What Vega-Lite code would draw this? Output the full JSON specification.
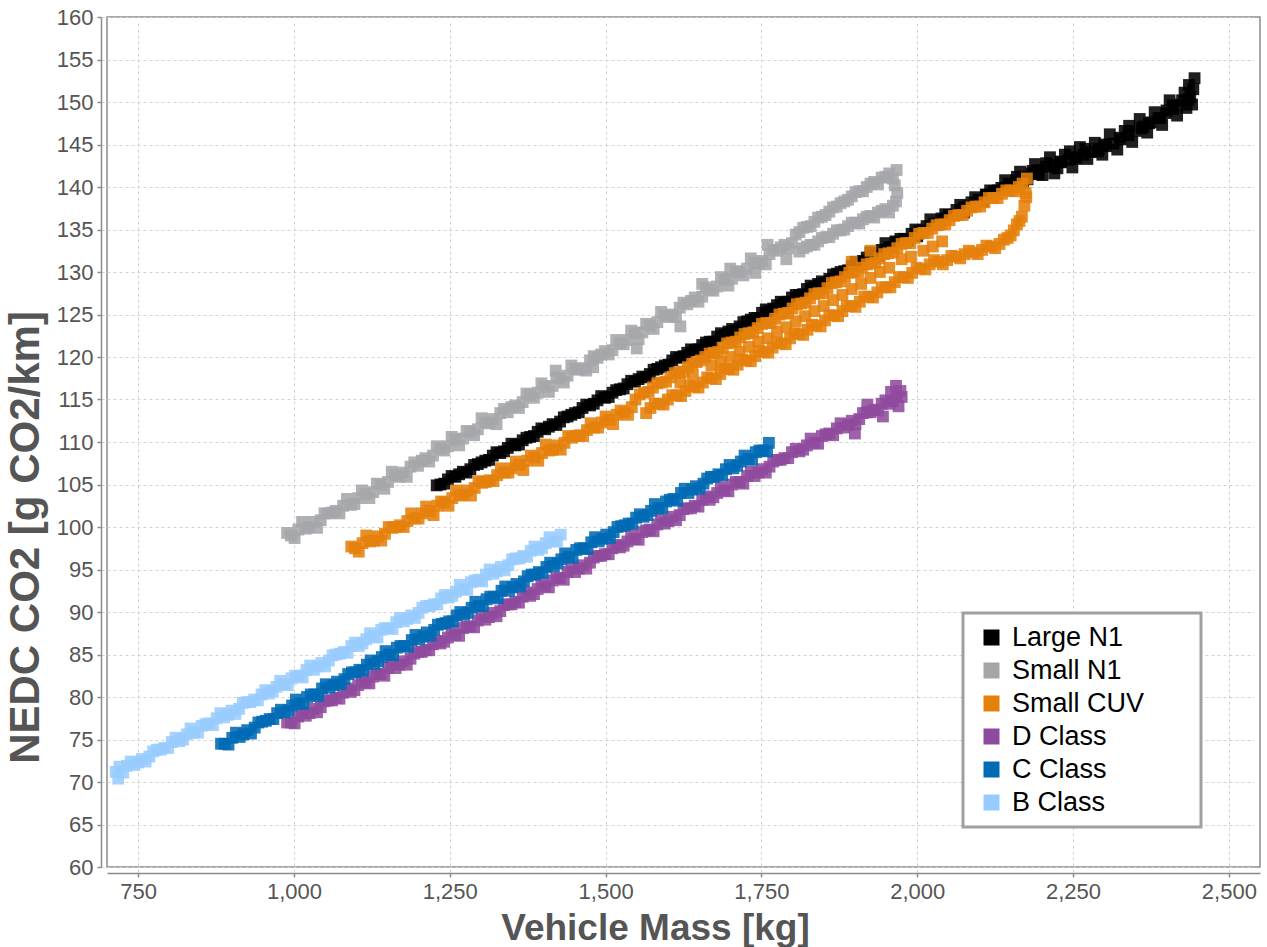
{
  "$schema": "https://vega.github.io/schema/vega-lite/v6.json",
  "width": 1153,
  "height": 850,
  "autosize": {"type": "none"},
  "padding": {"left": 107, "top": 17, "right": 7, "bottom": 80},
  "background": "white",
  "config": {
    "font": "Liberation Sans",
    "view": {"stroke": "#8c8c8c", "strokeWidth": 1.5},
    "axis": {
      "grid": true,
      "gridColor": "#d2d2d2",
      "gridDash": [3, 3],
      "gridWidth": 1,
      "domainColor": "#8c8c8c",
      "domainWidth": 1.5,
      "tickColor": "#8c8c8c",
      "tickSize": 4,
      "tickWidth": 1.5,
      "labelFont": "Liberation Sans",
      "labelFontSize": 22,
      "labelColor": "#555555",
      "labelPadding": 4,
      "titleFont": "Liberation Sans",
      "titleFontWeight": "bold",
      "titleColor": "#555555",
      "offset": 6
    }
  },
  "data": {
    "values": [
      {"series": "Large N1", "mass": 1229, "co2": 104.9},
      {"series": "Large N1", "mass": 1241, "co2": 105.1},
      {"series": "Large N1", "mass": 1253, "co2": 106.0},
      {"series": "Large N1", "mass": 1265, "co2": 106.2},
      {"series": "Large N1", "mass": 1277, "co2": 106.4},
      {"series": "Large N1", "mass": 1289, "co2": 107.3},
      {"series": "Large N1", "mass": 1301, "co2": 107.6},
      {"series": "Large N1", "mass": 1313, "co2": 107.9},
      {"series": "Large N1", "mass": 1325, "co2": 108.8},
      {"series": "Large N1", "mass": 1337, "co2": 108.9},
      {"series": "Large N1", "mass": 1349, "co2": 109.8},
      {"series": "Large N1", "mass": 1361, "co2": 109.7},
      {"series": "Large N1", "mass": 1373, "co2": 110.5},
      {"series": "Large N1", "mass": 1385, "co2": 110.7},
      {"series": "Large N1", "mass": 1397, "co2": 111.6},
      {"series": "Large N1", "mass": 1409, "co2": 111.8},
      {"series": "Large N1", "mass": 1421, "co2": 112.0},
      {"series": "Large N1", "mass": 1433, "co2": 112.9},
      {"series": "Large N1", "mass": 1445, "co2": 113.2},
      {"series": "Large N1", "mass": 1457, "co2": 113.5},
      {"series": "Large N1", "mass": 1469, "co2": 114.4},
      {"series": "Large N1", "mass": 1481, "co2": 114.5},
      {"series": "Large N1", "mass": 1493, "co2": 115.4},
      {"series": "Large N1", "mass": 1505, "co2": 115.3},
      {"series": "Large N1", "mass": 1517, "co2": 116.1},
      {"series": "Large N1", "mass": 1529, "co2": 116.3},
      {"series": "Large N1", "mass": 1541, "co2": 117.2},
      {"series": "Large N1", "mass": 1553, "co2": 117.4},
      {"series": "Large N1", "mass": 1565, "co2": 117.6},
      {"series": "Large N1", "mass": 1577, "co2": 118.5},
      {"series": "Large N1", "mass": 1589, "co2": 118.8},
      {"series": "Large N1", "mass": 1601, "co2": 119.1},
      {"series": "Large N1", "mass": 1613, "co2": 120.0},
      {"series": "Large N1", "mass": 1625, "co2": 120.1},
      {"series": "Large N1", "mass": 1637, "co2": 120.9},
      {"series": "Large N1", "mass": 1649, "co2": 120.9},
      {"series": "Large N1", "mass": 1661, "co2": 121.7},
      {"series": "Large N1", "mass": 1673, "co2": 121.8},
      {"series": "Large N1", "mass": 1685, "co2": 122.8},
      {"series": "Large N1", "mass": 1697, "co2": 123.0},
      {"series": "Large N1", "mass": 1709, "co2": 123.1},
      {"series": "Large N1", "mass": 1721, "co2": 124.1},
      {"series": "Large N1", "mass": 1733, "co2": 124.4},
      {"series": "Large N1", "mass": 1745, "co2": 124.6},
      {"series": "Large N1", "mass": 1757, "co2": 125.6},
      {"series": "Large N1", "mass": 1769, "co2": 125.7},
      {"series": "Large N1", "mass": 1781, "co2": 126.5},
      {"series": "Large N1", "mass": 1793, "co2": 126.5},
      {"series": "Large N1", "mass": 1805, "co2": 127.3},
      {"series": "Large N1", "mass": 1817, "co2": 127.4},
      {"series": "Large N1", "mass": 1829, "co2": 128.4},
      {"series": "Large N1", "mass": 1841, "co2": 128.6},
      {"series": "Large N1", "mass": 1853, "co2": 128.7},
      {"series": "Large N1", "mass": 1865, "co2": 129.7},
      {"series": "Large N1", "mass": 1877, "co2": 130.0},
      {"series": "Large N1", "mass": 1889, "co2": 130.2},
      {"series": "Large N1", "mass": 1901, "co2": 131.2},
      {"series": "Large N1", "mass": 1913, "co2": 131.3},
      {"series": "Large N1", "mass": 1925, "co2": 132.3},
      {"series": "Large N1", "mass": 1937, "co2": 131.9},
      {"series": "Large N1", "mass": 1949, "co2": 133.4},
      {"series": "Large N1", "mass": 1961, "co2": 132.9},
      {"series": "Large N1", "mass": 1973, "co2": 133.9},
      {"series": "Large N1", "mass": 1985, "co2": 133.7},
      {"series": "Large N1", "mass": 1997, "co2": 135.0},
      {"series": "Large N1", "mass": 2009, "co2": 134.9},
      {"series": "Large N1", "mass": 2021, "co2": 136.2},
      {"series": "Large N1", "mass": 2033, "co2": 135.6},
      {"series": "Large N1", "mass": 2045, "co2": 136.8},
      {"series": "Large N1", "mass": 2057, "co2": 136.7},
      {"series": "Large N1", "mass": 2069, "co2": 137.9},
      {"series": "Large N1", "mass": 2081, "co2": 137.7},
      {"series": "Large N1", "mass": 2093, "co2": 138.8},
      {"series": "Large N1", "mass": 2105, "co2": 138.3},
      {"series": "Large N1", "mass": 2117, "co2": 139.6},
      {"series": "Large N1", "mass": 2129, "co2": 139.6},
      {"series": "Large N1", "mass": 2141, "co2": 140.8},
      {"series": "Large N1", "mass": 2153, "co2": 140.0},
      {"series": "Large N1", "mass": 2165, "co2": 141.8},
      {"series": "Large N1", "mass": 2177, "co2": 140.9},
      {"series": "Large N1", "mass": 2189, "co2": 142.7},
      {"series": "Large N1", "mass": 2201, "co2": 141.4},
      {"series": "Large N1", "mass": 2213, "co2": 143.5},
      {"series": "Large N1", "mass": 2225, "co2": 142.2},
      {"series": "Large N1", "mass": 2237, "co2": 143.8},
      {"series": "Large N1", "mass": 2249, "co2": 142.3},
      {"series": "Large N1", "mass": 2261, "co2": 144.7},
      {"series": "Large N1", "mass": 2273, "co2": 143.3},
      {"series": "Large N1", "mass": 2285, "co2": 145.2},
      {"series": "Large N1", "mass": 2297, "co2": 143.8},
      {"series": "Large N1", "mass": 2309, "co2": 146.2},
      {"series": "Large N1", "mass": 2321, "co2": 144.4},
      {"series": "Large N1", "mass": 2333, "co2": 146.6},
      {"series": "Large N1", "mass": 2345, "co2": 145.3},
      {"series": "Large N1", "mass": 2357, "co2": 148.0},
      {"series": "Large N1", "mass": 2369, "co2": 146.4},
      {"series": "Large N1", "mass": 2381, "co2": 148.8},
      {"series": "Large N1", "mass": 2393, "co2": 147.3},
      {"series": "Large N1", "mass": 2405, "co2": 150.2},
      {"series": "Large N1", "mass": 2417, "co2": 148.4},
      {"series": "Large N1", "mass": 2429, "co2": 151.1},
      {"series": "Large N1", "mass": 2441, "co2": 149.7},
      {"series": "Large N1", "mass": 2445, "co2": 152.8},
      {"series": "Large N1", "mass": 2443, "co2": 151.5},
      {"series": "Large N1", "mass": 2438, "co2": 150.6},
      {"series": "Large N1", "mass": 2436, "co2": 152.0},
      {"series": "Large N1", "mass": 2432, "co2": 149.3},
      {"series": "Large N1", "mass": 2425, "co2": 150.2},
      {"series": "Large N1", "mass": 2410, "co2": 149.6},
      {"series": "Large N1", "mass": 2400, "co2": 149.0},
      {"series": "Large N1", "mass": 2390, "co2": 148.1},
      {"series": "Large N1", "mass": 2372, "co2": 147.5},
      {"series": "Large N1", "mass": 2360, "co2": 146.9},
      {"series": "Large N1", "mass": 2340, "co2": 147.2},
      {"series": "Large N1", "mass": 2325, "co2": 145.8},
      {"series": "Large N1", "mass": 2300, "co2": 145.0},
      {"series": "Large N1", "mass": 2290, "co2": 144.2},
      {"series": "Large N1", "mass": 2270, "co2": 144.5},
      {"series": "Large N1", "mass": 2255, "co2": 143.3},
      {"series": "Large N1", "mass": 2245, "co2": 144.2},
      {"series": "Large N1", "mass": 2230, "co2": 143.0},
      {"series": "Large N1", "mass": 2220, "co2": 141.6},
      {"series": "Large N1", "mass": 2207, "co2": 142.8},
      {"series": "Large N1", "mass": 2195, "co2": 141.5},
      {"series": "Large N1", "mass": 2185, "co2": 141.9},
      {"series": "Large N1", "mass": 2170, "co2": 140.6},
      {"series": "Large N1", "mass": 2160, "co2": 141.2},
      {"series": "Large N1", "mass": 2145, "co2": 139.6},
      {"series": "Large N1", "mass": 2110, "co2": 139.1},
      {"series": "Large N1", "mass": 2075, "co2": 137.0},
      {"series": "Large N1", "mass": 2040, "co2": 136.1},
      {"series": "Large N1", "mass": 2000, "co2": 134.2},
      {"series": "Large N1", "mass": 1965, "co2": 133.6},
      {"series": "Large N1", "mass": 1235, "co2": 105.0},
      {"series": "Large N1", "mass": 1247, "co2": 105.6},
      {"series": "Large N1", "mass": 1259, "co2": 105.9},
      {"series": "Large N1", "mass": 1271, "co2": 106.5},
      {"series": "Large N1", "mass": 1283, "co2": 106.8},
      {"series": "Large N1", "mass": 1295, "co2": 107.4},
      {"series": "Large N1", "mass": 1307, "co2": 107.8},
      {"series": "Large N1", "mass": 1319, "co2": 108.4},
      {"series": "Large N1", "mass": 1331, "co2": 108.7},
      {"series": "Large N1", "mass": 1343, "co2": 109.3},
      {"series": "Large N1", "mass": 1355, "co2": 109.6},
      {"series": "Large N1", "mass": 1367, "co2": 110.2},
      {"series": "Large N1", "mass": 1379, "co2": 110.6},
      {"series": "Large N1", "mass": 1391, "co2": 111.2},
      {"series": "Large N1", "mass": 1403, "co2": 111.5},
      {"series": "Large N1", "mass": 1415, "co2": 112.1},
      {"series": "Large N1", "mass": 1427, "co2": 112.4},
      {"series": "Large N1", "mass": 1439, "co2": 113.0},
      {"series": "Large N1", "mass": 1451, "co2": 113.4},
      {"series": "Large N1", "mass": 1463, "co2": 114.0},
      {"series": "Large N1", "mass": 1475, "co2": 114.3},
      {"series": "Large N1", "mass": 1487, "co2": 114.9},
      {"series": "Large N1", "mass": 1499, "co2": 115.2},
      {"series": "Large N1", "mass": 1511, "co2": 115.8},
      {"series": "Large N1", "mass": 1523, "co2": 116.2},
      {"series": "Large N1", "mass": 1535, "co2": 116.8},
      {"series": "Large N1", "mass": 1547, "co2": 117.1},
      {"series": "Large N1", "mass": 1559, "co2": 117.7},
      {"series": "Large N1", "mass": 1571, "co2": 118.0},
      {"series": "Large N1", "mass": 1583, "co2": 118.6},
      {"series": "Large N1", "mass": 1595, "co2": 119.0},
      {"series": "Large N1", "mass": 1607, "co2": 119.6},
      {"series": "Large N1", "mass": 1619, "co2": 119.9},
      {"series": "Large N1", "mass": 1631, "co2": 120.5},
      {"series": "Large N1", "mass": 1643, "co2": 120.8},
      {"series": "Large N1", "mass": 1655, "co2": 121.4},
      {"series": "Large N1", "mass": 1667, "co2": 121.8},
      {"series": "Large N1", "mass": 1679, "co2": 122.4},
      {"series": "Large N1", "mass": 1691, "co2": 122.6},
      {"series": "Large N1", "mass": 1703, "co2": 123.3},
      {"series": "Large N1", "mass": 1715, "co2": 123.6},
      {"series": "Large N1", "mass": 1727, "co2": 124.2},
      {"series": "Large N1", "mass": 1739, "co2": 124.6},
      {"series": "Large N1", "mass": 1751, "co2": 125.2},
      {"series": "Large N1", "mass": 1763, "co2": 125.4},
      {"series": "Large N1", "mass": 1775, "co2": 126.1},
      {"series": "Large N1", "mass": 1787, "co2": 126.4},
      {"series": "Large N1", "mass": 1799, "co2": 127.0},
      {"series": "Large N1", "mass": 1811, "co2": 127.3},
      {"series": "Large N1", "mass": 1823, "co2": 128.0},
      {"series": "Large N1", "mass": 1835, "co2": 128.2},
      {"series": "Large N1", "mass": 1847, "co2": 128.9},
      {"series": "Large N1", "mass": 1859, "co2": 129.2},
      {"series": "Large N1", "mass": 1871, "co2": 129.8},
      {"series": "Large N1", "mass": 1883, "co2": 130.1},
      {"series": "Large N1", "mass": 1895, "co2": 130.7},
      {"series": "Large N1", "mass": 1907, "co2": 131.1},
      {"series": "Large N1", "mass": 1919, "co2": 131.7},
      {"series": "Large N1", "mass": 1931, "co2": 132.0},
      {"series": "Large N1", "mass": 1943, "co2": 132.6},
      {"series": "Large N1", "mass": 1955, "co2": 132.9},
      {"series": "Large N1", "mass": 1967, "co2": 133.5},
      {"series": "Large N1", "mass": 1979, "co2": 133.9},
      {"series": "Large N1", "mass": 1991, "co2": 134.5},
      {"series": "Large N1", "mass": 2003, "co2": 134.8},
      {"series": "Large N1", "mass": 2015, "co2": 135.4},
      {"series": "Large N1", "mass": 2027, "co2": 135.7},
      {"series": "Large N1", "mass": 2039, "co2": 136.3},
      {"series": "Large N1", "mass": 2051, "co2": 136.7},
      {"series": "Large N1", "mass": 2063, "co2": 137.3},
      {"series": "Large N1", "mass": 2075, "co2": 137.6},
      {"series": "Large N1", "mass": 2087, "co2": 138.2},
      {"series": "Large N1", "mass": 2099, "co2": 138.5},
      {"series": "Large N1", "mass": 2111, "co2": 139.1},
      {"series": "Large N1", "mass": 2123, "co2": 139.5},
      {"series": "Large N1", "mass": 2135, "co2": 139.9},
      {"series": "Large N1", "mass": 2147, "co2": 140.4},
      {"series": "Large N1", "mass": 2159, "co2": 140.8},
      {"series": "Large N1", "mass": 2171, "co2": 141.2},
      {"series": "Large N1", "mass": 2183, "co2": 141.6},
      {"series": "Large N1", "mass": 2195, "co2": 142.0},
      {"series": "Large N1", "mass": 2207, "co2": 142.4},
      {"series": "Large N1", "mass": 2219, "co2": 142.6},
      {"series": "Large N1", "mass": 2231, "co2": 142.9},
      {"series": "Large N1", "mass": 2243, "co2": 143.2},
      {"series": "Large N1", "mass": 2255, "co2": 143.5},
      {"series": "Large N1", "mass": 2267, "co2": 143.8},
      {"series": "Large N1", "mass": 2279, "co2": 144.1},
      {"series": "Large N1", "mass": 2291, "co2": 144.5},
      {"series": "Large N1", "mass": 2303, "co2": 144.8},
      {"series": "Large N1", "mass": 2315, "co2": 145.1},
      {"series": "Large N1", "mass": 2327, "co2": 145.6},
      {"series": "Large N1", "mass": 2339, "co2": 146.1},
      {"series": "Large N1", "mass": 2351, "co2": 146.6},
      {"series": "Large N1", "mass": 2363, "co2": 147.1},
      {"series": "Large N1", "mass": 2375, "co2": 147.6},
      {"series": "Large N1", "mass": 2387, "co2": 148.1},
      {"series": "Large N1", "mass": 2399, "co2": 148.7},
      {"series": "Large N1", "mass": 2411, "co2": 149.2},
      {"series": "Large N1", "mass": 2423, "co2": 149.7},
      {"series": "Large N1", "mass": 2435, "co2": 150.3},

      {"series": "Small N1", "mass": 989, "co2": 99.3},
      {"series": "Small N1", "mass": 1001, "co2": 98.7},
      {"series": "Small N1", "mass": 1013, "co2": 100.6},
      {"series": "Small N1", "mass": 1025, "co2": 100.0},
      {"series": "Small N1", "mass": 1037, "co2": 99.9},
      {"series": "Small N1", "mass": 1049, "co2": 101.6},
      {"series": "Small N1", "mass": 1061, "co2": 101.7},
      {"series": "Small N1", "mass": 1073, "co2": 101.6},
      {"series": "Small N1", "mass": 1085, "co2": 103.3},
      {"series": "Small N1", "mass": 1097, "co2": 102.7},
      {"series": "Small N1", "mass": 1109, "co2": 104.3},
      {"series": "Small N1", "mass": 1121, "co2": 103.4},
      {"series": "Small N1", "mass": 1133, "co2": 105.1},
      {"series": "Small N1", "mass": 1145, "co2": 104.5},
      {"series": "Small N1", "mass": 1157, "co2": 106.5},
      {"series": "Small N1", "mass": 1169, "co2": 105.9},
      {"series": "Small N1", "mass": 1181, "co2": 105.9},
      {"series": "Small N1", "mass": 1193, "co2": 107.6},
      {"series": "Small N1", "mass": 1205, "co2": 107.8},
      {"series": "Small N1", "mass": 1217, "co2": 107.7},
      {"series": "Small N1", "mass": 1229, "co2": 109.5},
      {"series": "Small N1", "mass": 1241, "co2": 109.0},
      {"series": "Small N1", "mass": 1253, "co2": 110.6},
      {"series": "Small N1", "mass": 1265, "co2": 109.6},
      {"series": "Small N1", "mass": 1277, "co2": 111.3},
      {"series": "Small N1", "mass": 1289, "co2": 110.8},
      {"series": "Small N1", "mass": 1301, "co2": 112.8},
      {"series": "Small N1", "mass": 1313, "co2": 112.2},
      {"series": "Small N1", "mass": 1325, "co2": 112.1},
      {"series": "Small N1", "mass": 1337, "co2": 113.9},
      {"series": "Small N1", "mass": 1349, "co2": 114.1},
      {"series": "Small N1", "mass": 1361, "co2": 114.0},
      {"series": "Small N1", "mass": 1373, "co2": 115.7},
      {"series": "Small N1", "mass": 1385, "co2": 115.2},
      {"series": "Small N1", "mass": 1397, "co2": 116.9},
      {"series": "Small N1", "mass": 1409, "co2": 115.9},
      {"series": "Small N1", "mass": 1421, "co2": 117.6},
      {"series": "Small N1", "mass": 1433, "co2": 117.0},
      {"series": "Small N1", "mass": 1445, "co2": 119.0},
      {"series": "Small N1", "mass": 1457, "co2": 118.5},
      {"series": "Small N1", "mass": 1469, "co2": 118.4},
      {"series": "Small N1", "mass": 1481, "co2": 120.1},
      {"series": "Small N1", "mass": 1493, "co2": 120.3},
      {"series": "Small N1", "mass": 1505, "co2": 120.3},
      {"series": "Small N1", "mass": 1517, "co2": 122.0},
      {"series": "Small N1", "mass": 1529, "co2": 121.5},
      {"series": "Small N1", "mass": 1541, "co2": 123.1},
      {"series": "Small N1", "mass": 1553, "co2": 122.1},
      {"series": "Small N1", "mass": 1565, "co2": 123.9},
      {"series": "Small N1", "mass": 1577, "co2": 123.3},
      {"series": "Small N1", "mass": 1589, "co2": 125.3},
      {"series": "Small N1", "mass": 1601, "co2": 124.7},
      {"series": "Small N1", "mass": 1613, "co2": 124.7},
      {"series": "Small N1", "mass": 1625, "co2": 126.4},
      {"series": "Small N1", "mass": 1637, "co2": 126.6},
      {"series": "Small N1", "mass": 1649, "co2": 126.5},
      {"series": "Small N1", "mass": 1661, "co2": 128.2},
      {"series": "Small N1", "mass": 1673, "co2": 127.8},
      {"series": "Small N1", "mass": 1685, "co2": 129.4},
      {"series": "Small N1", "mass": 1697, "co2": 128.4},
      {"series": "Small N1", "mass": 1709, "co2": 130.1},
      {"series": "Small N1", "mass": 1721, "co2": 129.6},
      {"series": "Small N1", "mass": 1733, "co2": 131.6},
      {"series": "Small N1", "mass": 1745, "co2": 131.0},
      {"series": "Small N1", "mass": 1757, "co2": 130.9},
      {"series": "Small N1", "mass": 1769, "co2": 132.6},
      {"series": "Small N1", "mass": 1781, "co2": 132.9},
      {"series": "Small N1", "mass": 1793, "co2": 132.8},
      {"series": "Small N1", "mass": 1805, "co2": 134.4},
      {"series": "Small N1", "mass": 1817, "co2": 135.2},
      {"series": "Small N1", "mass": 1829, "co2": 135.4},
      {"series": "Small N1", "mass": 1841, "co2": 136.4},
      {"series": "Small N1", "mass": 1853, "co2": 136.7},
      {"series": "Small N1", "mass": 1865, "co2": 137.6},
      {"series": "Small N1", "mass": 1877, "co2": 138.1},
      {"series": "Small N1", "mass": 1889, "co2": 138.5},
      {"series": "Small N1", "mass": 1901, "co2": 139.4},
      {"series": "Small N1", "mass": 1913, "co2": 139.5},
      {"series": "Small N1", "mass": 1925, "co2": 140.4},
      {"series": "Small N1", "mass": 1937, "co2": 140.3},
      {"series": "Small N1", "mass": 1949, "co2": 141.2},
      {"series": "Small N1", "mass": 1961, "co2": 141.0},
      {"series": "Small N1", "mass": 1967, "co2": 142.0},
      {"series": "Small N1", "mass": 1964, "co2": 140.2},
      {"series": "Small N1", "mass": 1811, "co2": 132.4},
      {"series": "Small N1", "mass": 1823, "co2": 133.0},
      {"series": "Small N1", "mass": 1835, "co2": 133.2},
      {"series": "Small N1", "mass": 1847, "co2": 134.0},
      {"series": "Small N1", "mass": 1859, "co2": 134.1},
      {"series": "Small N1", "mass": 1871, "co2": 134.9},
      {"series": "Small N1", "mass": 1883, "co2": 135.0},
      {"series": "Small N1", "mass": 1895, "co2": 135.8},
      {"series": "Small N1", "mass": 1907, "co2": 135.7},
      {"series": "Small N1", "mass": 1919, "co2": 136.5},
      {"series": "Small N1", "mass": 1931, "co2": 136.4},
      {"series": "Small N1", "mass": 1943, "co2": 137.2},
      {"series": "Small N1", "mass": 1955, "co2": 137.0},
      {"series": "Small N1", "mass": 1966, "co2": 138.3},
      {"series": "Small N1", "mass": 1968, "co2": 139.3},
      {"series": "Small N1", "mass": 1620, "co2": 123.6},
      {"series": "Small N1", "mass": 1655, "co2": 128.6},
      {"series": "Small N1", "mass": 1700, "co2": 130.4},
      {"series": "Small N1", "mass": 1740, "co2": 129.9},
      {"series": "Small N1", "mass": 1760, "co2": 133.2},
      {"series": "Small N1", "mass": 1790, "co2": 131.5},
      {"series": "Small N1", "mass": 1550, "co2": 121.0},
      {"series": "Small N1", "mass": 1480, "co2": 118.8},
      {"series": "Small N1", "mass": 1420, "co2": 118.4},
      {"series": "Small N1", "mass": 995, "co2": 99.0},
      {"series": "Small N1", "mass": 1007, "co2": 99.7},
      {"series": "Small N1", "mass": 1019, "co2": 99.8},
      {"series": "Small N1", "mass": 1031, "co2": 100.6},
      {"series": "Small N1", "mass": 1043, "co2": 100.8},
      {"series": "Small N1", "mass": 1055, "co2": 101.6},
      {"series": "Small N1", "mass": 1067, "co2": 101.9},
      {"series": "Small N1", "mass": 1079, "co2": 102.5},
      {"series": "Small N1", "mass": 1091, "co2": 102.6},
      {"series": "Small N1", "mass": 1103, "co2": 103.4},
      {"series": "Small N1", "mass": 1115, "co2": 103.9},
      {"series": "Small N1", "mass": 1127, "co2": 104.1},
      {"series": "Small N1", "mass": 1139, "co2": 105.0},
      {"series": "Small N1", "mass": 1151, "co2": 105.3},
      {"series": "Small N1", "mass": 1163, "co2": 106.1},
      {"series": "Small N1", "mass": 1175, "co2": 106.4},
      {"series": "Small N1", "mass": 1187, "co2": 107.1},
      {"series": "Small N1", "mass": 1199, "co2": 107.2},
      {"series": "Small N1", "mass": 1211, "co2": 108.1},
      {"series": "Small N1", "mass": 1223, "co2": 108.4},
      {"series": "Small N1", "mass": 1235, "co2": 109.2},
      {"series": "Small N1", "mass": 1247, "co2": 109.5},
      {"series": "Small N1", "mass": 1259, "co2": 110.3},
      {"series": "Small N1", "mass": 1271, "co2": 110.4},
      {"series": "Small N1", "mass": 1283, "co2": 111.2},
      {"series": "Small N1", "mass": 1295, "co2": 111.5},
      {"series": "Small N1", "mass": 1307, "co2": 112.3},
      {"series": "Small N1", "mass": 1319, "co2": 112.7},
      {"series": "Small N1", "mass": 1331, "co2": 113.4},
      {"series": "Small N1", "mass": 1343, "co2": 113.5},
      {"series": "Small N1", "mass": 1355, "co2": 114.3},
      {"series": "Small N1", "mass": 1367, "co2": 114.7},
      {"series": "Small N1", "mass": 1379, "co2": 115.5},
      {"series": "Small N1", "mass": 1391, "co2": 115.8},
      {"series": "Small N1", "mass": 1403, "co2": 116.5},
      {"series": "Small N1", "mass": 1415, "co2": 116.6},
      {"series": "Small N1", "mass": 1427, "co2": 117.5},
      {"series": "Small N1", "mass": 1439, "co2": 117.8},
      {"series": "Small N1", "mass": 1451, "co2": 118.6},
      {"series": "Small N1", "mass": 1463, "co2": 118.7},
      {"series": "Small N1", "mass": 1475, "co2": 119.6},
      {"series": "Small N1", "mass": 1487, "co2": 119.9},
      {"series": "Small N1", "mass": 1499, "co2": 120.7},
      {"series": "Small N1", "mass": 1511, "co2": 120.8},
      {"series": "Small N1", "mass": 1523, "co2": 121.6},
      {"series": "Small N1", "mass": 1535, "co2": 122.0},
      {"series": "Small N1", "mass": 1547, "co2": 122.8},
      {"series": "Small N1", "mass": 1559, "co2": 122.9},
      {"series": "Small N1", "mass": 1571, "co2": 123.7},
      {"series": "Small N1", "mass": 1583, "co2": 124.1},
      {"series": "Small N1", "mass": 1595, "co2": 124.9},
      {"series": "Small N1", "mass": 1607, "co2": 125.0},
      {"series": "Small N1", "mass": 1619, "co2": 125.8},
      {"series": "Small N1", "mass": 1631, "co2": 126.2},
      {"series": "Small N1", "mass": 1643, "co2": 127.0},
      {"series": "Small N1", "mass": 1655, "co2": 127.1},
      {"series": "Small N1", "mass": 1667, "co2": 127.9},
      {"series": "Small N1", "mass": 1679, "co2": 128.3},
      {"series": "Small N1", "mass": 1691, "co2": 129.1},
      {"series": "Small N1", "mass": 1703, "co2": 129.2},
      {"series": "Small N1", "mass": 1715, "co2": 130.0},
      {"series": "Small N1", "mass": 1727, "co2": 130.4},
      {"series": "Small N1", "mass": 1739, "co2": 131.1},
      {"series": "Small N1", "mass": 1751, "co2": 131.3},
      {"series": "Small N1", "mass": 1763, "co2": 132.1},
      {"series": "Small N1", "mass": 1775, "co2": 132.5},
      {"series": "Small N1", "mass": 1787, "co2": 133.2},
      {"series": "Small N1", "mass": 1799, "co2": 133.4},
      {"series": "Small N1", "mass": 1811, "co2": 134.7},
      {"series": "Small N1", "mass": 1823, "co2": 135.3},
      {"series": "Small N1", "mass": 1835, "co2": 135.9},
      {"series": "Small N1", "mass": 1847, "co2": 136.5},
      {"series": "Small N1", "mass": 1859, "co2": 137.1},
      {"series": "Small N1", "mass": 1871, "co2": 137.7},
      {"series": "Small N1", "mass": 1883, "co2": 138.3},
      {"series": "Small N1", "mass": 1895, "co2": 138.9},
      {"series": "Small N1", "mass": 1907, "co2": 139.5},
      {"series": "Small N1", "mass": 1919, "co2": 140.0},
      {"series": "Small N1", "mass": 1931, "co2": 140.6},
      {"series": "Small N1", "mass": 1943, "co2": 141.1},
      {"series": "Small N1", "mass": 1955, "co2": 141.6},
      {"series": "Small N1", "mass": 1817, "co2": 132.8},
      {"series": "Small N1", "mass": 1829, "co2": 133.2},
      {"series": "Small N1", "mass": 1841, "co2": 133.6},
      {"series": "Small N1", "mass": 1853, "co2": 134.1},
      {"series": "Small N1", "mass": 1865, "co2": 134.5},
      {"series": "Small N1", "mass": 1877, "co2": 134.9},
      {"series": "Small N1", "mass": 1889, "co2": 135.4},
      {"series": "Small N1", "mass": 1901, "co2": 135.8},
      {"series": "Small N1", "mass": 1913, "co2": 136.2},
      {"series": "Small N1", "mass": 1925, "co2": 136.6},
      {"series": "Small N1", "mass": 1937, "co2": 137.0},
      {"series": "Small N1", "mass": 1949, "co2": 137.4},
      {"series": "Small N1", "mass": 1961, "co2": 137.8},

      {"series": "Small CUV", "mass": 1092, "co2": 97.7},
      {"series": "Small CUV", "mass": 1104, "co2": 97.1},
      {"series": "Small CUV", "mass": 1116, "co2": 99.0},
      {"series": "Small CUV", "mass": 1128, "co2": 98.4},
      {"series": "Small CUV", "mass": 1140, "co2": 98.4},
      {"series": "Small CUV", "mass": 1152, "co2": 100.0},
      {"series": "Small CUV", "mass": 1164, "co2": 100.0},
      {"series": "Small CUV", "mass": 1176, "co2": 100.0},
      {"series": "Small CUV", "mass": 1188, "co2": 101.6},
      {"series": "Small CUV", "mass": 1200, "co2": 101.0},
      {"series": "Small CUV", "mass": 1212, "co2": 102.4},
      {"series": "Small CUV", "mass": 1224, "co2": 101.4},
      {"series": "Small CUV", "mass": 1236, "co2": 103.0},
      {"series": "Small CUV", "mass": 1248, "co2": 102.5},
      {"series": "Small CUV", "mass": 1260, "co2": 104.3},
      {"series": "Small CUV", "mass": 1272, "co2": 103.8},
      {"series": "Small CUV", "mass": 1284, "co2": 103.7},
      {"series": "Small CUV", "mass": 1296, "co2": 105.4},
      {"series": "Small CUV", "mass": 1308, "co2": 105.3},
      {"series": "Small CUV", "mass": 1320, "co2": 105.4},
      {"series": "Small CUV", "mass": 1332, "co2": 106.9},
      {"series": "Small CUV", "mass": 1344, "co2": 106.4},
      {"series": "Small CUV", "mass": 1356, "co2": 107.7},
      {"series": "Small CUV", "mass": 1368, "co2": 106.7},
      {"series": "Small CUV", "mass": 1380, "co2": 108.4},
      {"series": "Small CUV", "mass": 1392, "co2": 107.8},
      {"series": "Small CUV", "mass": 1404, "co2": 109.7},
      {"series": "Small CUV", "mass": 1416, "co2": 109.1},
      {"series": "Small CUV", "mass": 1428, "co2": 109.1},
      {"series": "Small CUV", "mass": 1440, "co2": 110.7},
      {"series": "Small CUV", "mass": 1452, "co2": 110.7},
      {"series": "Small CUV", "mass": 1464, "co2": 110.7},
      {"series": "Small CUV", "mass": 1476, "co2": 112.2},
      {"series": "Small CUV", "mass": 1488, "co2": 111.7},
      {"series": "Small CUV", "mass": 1500, "co2": 113.0},
      {"series": "Small CUV", "mass": 1512, "co2": 112.1},
      {"series": "Small CUV", "mass": 1524, "co2": 113.7},
      {"series": "Small CUV", "mass": 1536, "co2": 113.2},
      {"series": "Small CUV", "mass": 1548, "co2": 115.0},
      {"series": "Small CUV", "mass": 1098, "co2": 97.5},
      {"series": "Small CUV", "mass": 1110, "co2": 98.1},
      {"series": "Small CUV", "mass": 1122, "co2": 98.3},
      {"series": "Small CUV", "mass": 1134, "co2": 98.9},
      {"series": "Small CUV", "mass": 1146, "co2": 99.2},
      {"series": "Small CUV", "mass": 1158, "co2": 99.9},
      {"series": "Small CUV", "mass": 1170, "co2": 100.2},
      {"series": "Small CUV", "mass": 1182, "co2": 100.7},
      {"series": "Small CUV", "mass": 1194, "co2": 101.0},
      {"series": "Small CUV", "mass": 1206, "co2": 101.6},
      {"series": "Small CUV", "mass": 1218, "co2": 101.9},
      {"series": "Small CUV", "mass": 1230, "co2": 102.5},
      {"series": "Small CUV", "mass": 1242, "co2": 102.9},
      {"series": "Small CUV", "mass": 1254, "co2": 103.4},
      {"series": "Small CUV", "mass": 1266, "co2": 103.7},
      {"series": "Small CUV", "mass": 1278, "co2": 104.3},
      {"series": "Small CUV", "mass": 1290, "co2": 104.6},
      {"series": "Small CUV", "mass": 1302, "co2": 105.2},
      {"series": "Small CUV", "mass": 1314, "co2": 105.5},
      {"series": "Small CUV", "mass": 1326, "co2": 106.1},
      {"series": "Small CUV", "mass": 1338, "co2": 106.4},
      {"series": "Small CUV", "mass": 1350, "co2": 106.9},
      {"series": "Small CUV", "mass": 1362, "co2": 107.3},
      {"series": "Small CUV", "mass": 1374, "co2": 107.8},
      {"series": "Small CUV", "mass": 1386, "co2": 108.2},
      {"series": "Small CUV", "mass": 1398, "co2": 108.7},
      {"series": "Small CUV", "mass": 1410, "co2": 109.0},
      {"series": "Small CUV", "mass": 1422, "co2": 109.6},
      {"series": "Small CUV", "mass": 1434, "co2": 109.9},
      {"series": "Small CUV", "mass": 1446, "co2": 110.5},
      {"series": "Small CUV", "mass": 1458, "co2": 110.8},
      {"series": "Small CUV", "mass": 1470, "co2": 111.4},
      {"series": "Small CUV", "mass": 1482, "co2": 111.7},
      {"series": "Small CUV", "mass": 1494, "co2": 112.3},
      {"series": "Small CUV", "mass": 1506, "co2": 112.6},
      {"series": "Small CUV", "mass": 1518, "co2": 113.2},
      {"series": "Small CUV", "mass": 1530, "co2": 113.5},
      {"series": "Small CUV", "mass": 1542, "co2": 114.1},
      {"series": "Small CUV", "mass": 1555, "co2": 115.6},
      {"series": "Small CUV", "mass": 1569, "co2": 115.9},
      {"series": "Small CUV", "mass": 1583, "co2": 116.9},
      {"series": "Small CUV", "mass": 1597, "co2": 117.1},
      {"series": "Small CUV", "mass": 1611, "co2": 118.1},
      {"series": "Small CUV", "mass": 1625, "co2": 118.3},
      {"series": "Small CUV", "mass": 1639, "co2": 119.2},
      {"series": "Small CUV", "mass": 1653, "co2": 119.6},
      {"series": "Small CUV", "mass": 1667, "co2": 120.4},
      {"series": "Small CUV", "mass": 1681, "co2": 120.6},
      {"series": "Small CUV", "mass": 1695, "co2": 121.6},
      {"series": "Small CUV", "mass": 1709, "co2": 121.8},
      {"series": "Small CUV", "mass": 1723, "co2": 122.7},
      {"series": "Small CUV", "mass": 1737, "co2": 122.9},
      {"series": "Small CUV", "mass": 1751, "co2": 123.9},
      {"series": "Small CUV", "mass": 1765, "co2": 124.0},
      {"series": "Small CUV", "mass": 1779, "co2": 125.0},
      {"series": "Small CUV", "mass": 1793, "co2": 125.2},
      {"series": "Small CUV", "mass": 1807, "co2": 126.2},
      {"series": "Small CUV", "mass": 1821, "co2": 126.4},
      {"series": "Small CUV", "mass": 1835, "co2": 127.4},
      {"series": "Small CUV", "mass": 1849, "co2": 127.5},
      {"series": "Small CUV", "mass": 1863, "co2": 128.7},
      {"series": "Small CUV", "mass": 1877, "co2": 128.9},
      {"series": "Small CUV", "mass": 1891, "co2": 129.9},
      {"series": "Small CUV", "mass": 1905, "co2": 130.0},
      {"series": "Small CUV", "mass": 1919, "co2": 130.9},
      {"series": "Small CUV", "mass": 1933, "co2": 131.1},
      {"series": "Small CUV", "mass": 1947, "co2": 132.1},
      {"series": "Small CUV", "mass": 1961, "co2": 132.3},
      {"series": "Small CUV", "mass": 1975, "co2": 133.3},
      {"series": "Small CUV", "mass": 1989, "co2": 133.4},
      {"series": "Small CUV", "mass": 2003, "co2": 134.5},
      {"series": "Small CUV", "mass": 2017, "co2": 134.6},
      {"series": "Small CUV", "mass": 2031, "co2": 135.5},
      {"series": "Small CUV", "mass": 2045, "co2": 135.6},
      {"series": "Small CUV", "mass": 2059, "co2": 136.6},
      {"series": "Small CUV", "mass": 2073, "co2": 136.7},
      {"series": "Small CUV", "mass": 2087, "co2": 137.6},
      {"series": "Small CUV", "mass": 2101, "co2": 137.7},
      {"series": "Small CUV", "mass": 2115, "co2": 138.7},
      {"series": "Small CUV", "mass": 2129, "co2": 138.7},
      {"series": "Small CUV", "mass": 2143, "co2": 139.6},
      {"series": "Small CUV", "mass": 2157, "co2": 139.5},
      {"series": "Small CUV", "mass": 2169, "co2": 140.4},
      {"series": "Small CUV", "mass": 2174, "co2": 139.3},
      {"series": "Small CUV", "mass": 2176, "co2": 141.0},
      {"series": "Small CUV", "mass": 1562, "co2": 115.8},
      {"series": "Small CUV", "mass": 1576, "co2": 116.4},
      {"series": "Small CUV", "mass": 1590, "co2": 117.0},
      {"series": "Small CUV", "mass": 1604, "co2": 117.6},
      {"series": "Small CUV", "mass": 1618, "co2": 118.2},
      {"series": "Small CUV", "mass": 1632, "co2": 118.8},
      {"series": "Small CUV", "mass": 1646, "co2": 119.4},
      {"series": "Small CUV", "mass": 1660, "co2": 120.0},
      {"series": "Small CUV", "mass": 1674, "co2": 120.5},
      {"series": "Small CUV", "mass": 1688, "co2": 121.1},
      {"series": "Small CUV", "mass": 1702, "co2": 121.7},
      {"series": "Small CUV", "mass": 1716, "co2": 122.3},
      {"series": "Small CUV", "mass": 1730, "co2": 122.8},
      {"series": "Small CUV", "mass": 1744, "co2": 123.4},
      {"series": "Small CUV", "mass": 1758, "co2": 124.0},
      {"series": "Small CUV", "mass": 1772, "co2": 124.5},
      {"series": "Small CUV", "mass": 1786, "co2": 125.1},
      {"series": "Small CUV", "mass": 1800, "co2": 125.7},
      {"series": "Small CUV", "mass": 1814, "co2": 126.3},
      {"series": "Small CUV", "mass": 1828, "co2": 126.9},
      {"series": "Small CUV", "mass": 1842, "co2": 127.5},
      {"series": "Small CUV", "mass": 1856, "co2": 128.1},
      {"series": "Small CUV", "mass": 1870, "co2": 128.8},
      {"series": "Small CUV", "mass": 1884, "co2": 129.4},
      {"series": "Small CUV", "mass": 1898, "co2": 130.0},
      {"series": "Small CUV", "mass": 1912, "co2": 130.5},
      {"series": "Small CUV", "mass": 1926, "co2": 131.0},
      {"series": "Small CUV", "mass": 1940, "co2": 131.6},
      {"series": "Small CUV", "mass": 1954, "co2": 132.2},
      {"series": "Small CUV", "mass": 1968, "co2": 132.8},
      {"series": "Small CUV", "mass": 1982, "co2": 133.4},
      {"series": "Small CUV", "mass": 1996, "co2": 134.0},
      {"series": "Small CUV", "mass": 2010, "co2": 134.6},
      {"series": "Small CUV", "mass": 2024, "co2": 135.1},
      {"series": "Small CUV", "mass": 2038, "co2": 135.6},
      {"series": "Small CUV", "mass": 2052, "co2": 136.1},
      {"series": "Small CUV", "mass": 2066, "co2": 136.7},
      {"series": "Small CUV", "mass": 2080, "co2": 137.2},
      {"series": "Small CUV", "mass": 2094, "co2": 137.7},
      {"series": "Small CUV", "mass": 2108, "co2": 138.2},
      {"series": "Small CUV", "mass": 2122, "co2": 138.7},
      {"series": "Small CUV", "mass": 2136, "co2": 139.2},
      {"series": "Small CUV", "mass": 2150, "co2": 139.6},
      {"series": "Small CUV", "mass": 2163, "co2": 140.0},
      {"series": "Small CUV", "mass": 1565, "co2": 113.4},
      {"series": "Small CUV", "mass": 1579, "co2": 114.5},
      {"series": "Small CUV", "mass": 1593, "co2": 114.4},
      {"series": "Small CUV", "mass": 1607, "co2": 115.5},
      {"series": "Small CUV", "mass": 1621, "co2": 115.4},
      {"series": "Small CUV", "mass": 1635, "co2": 116.6},
      {"series": "Small CUV", "mass": 1649, "co2": 116.4},
      {"series": "Small CUV", "mass": 1663, "co2": 117.6},
      {"series": "Small CUV", "mass": 1677, "co2": 117.4},
      {"series": "Small CUV", "mass": 1691, "co2": 118.6},
      {"series": "Small CUV", "mass": 1705, "co2": 118.5},
      {"series": "Small CUV", "mass": 1719, "co2": 119.7},
      {"series": "Small CUV", "mass": 1733, "co2": 119.5},
      {"series": "Small CUV", "mass": 1747, "co2": 120.7},
      {"series": "Small CUV", "mass": 1761, "co2": 120.5},
      {"series": "Small CUV", "mass": 1775, "co2": 121.7},
      {"series": "Small CUV", "mass": 1789, "co2": 121.5},
      {"series": "Small CUV", "mass": 1803, "co2": 122.8},
      {"series": "Small CUV", "mass": 1817, "co2": 122.6},
      {"series": "Small CUV", "mass": 1831, "co2": 123.8},
      {"series": "Small CUV", "mass": 1845, "co2": 123.6},
      {"series": "Small CUV", "mass": 1859, "co2": 124.9},
      {"series": "Small CUV", "mass": 1873, "co2": 124.8},
      {"series": "Small CUV", "mass": 1887, "co2": 126.0},
      {"series": "Small CUV", "mass": 1901, "co2": 125.9},
      {"series": "Small CUV", "mass": 1915, "co2": 127.1},
      {"series": "Small CUV", "mass": 1929, "co2": 127.0},
      {"series": "Small CUV", "mass": 1943, "co2": 128.2},
      {"series": "Small CUV", "mass": 1957, "co2": 128.2},
      {"series": "Small CUV", "mass": 1971, "co2": 129.4},
      {"series": "Small CUV", "mass": 1985, "co2": 129.3},
      {"series": "Small CUV", "mass": 1999, "co2": 130.5},
      {"series": "Small CUV", "mass": 2013, "co2": 130.3},
      {"series": "Small CUV", "mass": 2027, "co2": 131.4},
      {"series": "Small CUV", "mass": 2041, "co2": 130.9},
      {"series": "Small CUV", "mass": 2055, "co2": 131.9},
      {"series": "Small CUV", "mass": 2069, "co2": 131.6},
      {"series": "Small CUV", "mass": 2083, "co2": 132.5},
      {"series": "Small CUV", "mass": 2097, "co2": 132.1},
      {"series": "Small CUV", "mass": 2111, "co2": 133.1},
      {"series": "Small CUV", "mass": 2125, "co2": 132.8},
      {"series": "Small CUV", "mass": 2139, "co2": 133.8},
      {"series": "Small CUV", "mass": 2150, "co2": 134.3},
      {"series": "Small CUV", "mass": 2160, "co2": 135.6},
      {"series": "Small CUV", "mass": 2168, "co2": 136.5},
      {"series": "Small CUV", "mass": 2172, "co2": 137.8},
      {"series": "Small CUV", "mass": 2175, "co2": 138.8},
      {"series": "Small CUV", "mass": 1572, "co2": 114.0},
      {"series": "Small CUV", "mass": 1586, "co2": 114.5},
      {"series": "Small CUV", "mass": 1600, "co2": 115.0},
      {"series": "Small CUV", "mass": 1614, "co2": 115.5},
      {"series": "Small CUV", "mass": 1628, "co2": 116.0},
      {"series": "Small CUV", "mass": 1642, "co2": 116.5},
      {"series": "Small CUV", "mass": 1656, "co2": 117.0},
      {"series": "Small CUV", "mass": 1670, "co2": 117.5},
      {"series": "Small CUV", "mass": 1684, "co2": 118.0},
      {"series": "Small CUV", "mass": 1698, "co2": 118.6},
      {"series": "Small CUV", "mass": 1712, "co2": 119.1},
      {"series": "Small CUV", "mass": 1726, "co2": 119.6},
      {"series": "Small CUV", "mass": 1740, "co2": 120.1},
      {"series": "Small CUV", "mass": 1754, "co2": 120.6},
      {"series": "Small CUV", "mass": 1768, "co2": 121.1},
      {"series": "Small CUV", "mass": 1782, "co2": 121.6},
      {"series": "Small CUV", "mass": 1796, "co2": 122.2},
      {"series": "Small CUV", "mass": 1810, "co2": 122.7},
      {"series": "Small CUV", "mass": 1824, "co2": 123.2},
      {"series": "Small CUV", "mass": 1838, "co2": 123.7},
      {"series": "Small CUV", "mass": 1852, "co2": 124.3},
      {"series": "Small CUV", "mass": 1866, "co2": 124.9},
      {"series": "Small CUV", "mass": 1880, "co2": 125.4},
      {"series": "Small CUV", "mass": 1894, "co2": 126.0},
      {"series": "Small CUV", "mass": 1908, "co2": 126.5},
      {"series": "Small CUV", "mass": 1922, "co2": 127.1},
      {"series": "Small CUV", "mass": 1936, "co2": 127.6},
      {"series": "Small CUV", "mass": 1950, "co2": 128.2},
      {"series": "Small CUV", "mass": 1964, "co2": 128.8},
      {"series": "Small CUV", "mass": 1978, "co2": 129.4},
      {"series": "Small CUV", "mass": 1992, "co2": 129.9},
      {"series": "Small CUV", "mass": 2006, "co2": 130.4},
      {"series": "Small CUV", "mass": 2020, "co2": 130.9},
      {"series": "Small CUV", "mass": 2034, "co2": 131.2},
      {"series": "Small CUV", "mass": 2048, "co2": 131.4},
      {"series": "Small CUV", "mass": 2062, "co2": 131.8},
      {"series": "Small CUV", "mass": 2076, "co2": 132.1},
      {"series": "Small CUV", "mass": 2090, "co2": 132.3},
      {"series": "Small CUV", "mass": 2104, "co2": 132.6},
      {"series": "Small CUV", "mass": 2118, "co2": 133.0},
      {"series": "Small CUV", "mass": 2132, "co2": 133.3},
      {"series": "Small CUV", "mass": 2145, "co2": 134.0},
      {"series": "Small CUV", "mass": 2155, "co2": 134.9},
      {"series": "Small CUV", "mass": 2164, "co2": 136.0},
      {"series": "Small CUV", "mass": 1620, "co2": 117.0},
      {"series": "Small CUV", "mass": 1670, "co2": 119.0},
      {"series": "Small CUV", "mass": 1700, "co2": 120.0},
      {"series": "Small CUV", "mass": 1730, "co2": 121.2},
      {"series": "Small CUV", "mass": 1760, "co2": 122.2},
      {"series": "Small CUV", "mass": 1790, "co2": 123.5},
      {"series": "Small CUV", "mass": 1820, "co2": 124.8},
      {"series": "Small CUV", "mass": 1850, "co2": 126.0},
      {"series": "Small CUV", "mass": 1880, "co2": 127.3},
      {"series": "Small CUV", "mass": 1895, "co2": 131.2},
      {"series": "Small CUV", "mass": 1910, "co2": 128.6},
      {"series": "Small CUV", "mass": 1925, "co2": 132.5},
      {"series": "Small CUV", "mass": 1940, "co2": 130.0},
      {"series": "Small CUV", "mass": 1975, "co2": 131.5},
      {"series": "Small CUV", "mass": 2010, "co2": 132.5},
      {"series": "Small CUV", "mass": 2040, "co2": 133.6},
      {"series": "Small CUV", "mass": 1640, "co2": 117.9},
      {"series": "Small CUV", "mass": 1685, "co2": 119.4},
      {"series": "Small CUV", "mass": 1715, "co2": 120.6},
      {"series": "Small CUV", "mass": 1745, "co2": 121.8},
      {"series": "Small CUV", "mass": 1775, "co2": 123.0},
      {"series": "Small CUV", "mass": 1805, "co2": 124.2},
      {"series": "Small CUV", "mass": 1835, "co2": 125.4},
      {"series": "Small CUV", "mass": 1865, "co2": 126.7},
      {"series": "Small CUV", "mass": 1895, "co2": 128.0},
      {"series": "Small CUV", "mass": 1925, "co2": 129.3},
      {"series": "Small CUV", "mass": 1955, "co2": 130.5},
      {"series": "Small CUV", "mass": 1990, "co2": 131.8},
      {"series": "Small CUV", "mass": 2025, "co2": 133.0},

      {"series": "D Class", "mass": 989, "co2": 77.0},
      {"series": "D Class", "mass": 1001, "co2": 76.9},
      {"series": "D Class", "mass": 1013, "co2": 78.2},
      {"series": "D Class", "mass": 1025, "co2": 78.1},
      {"series": "D Class", "mass": 1037, "co2": 78.2},
      {"series": "D Class", "mass": 1049, "co2": 79.5},
      {"series": "D Class", "mass": 1061, "co2": 79.6},
      {"series": "D Class", "mass": 1073, "co2": 79.8},
      {"series": "D Class", "mass": 1085, "co2": 81.0},
      {"series": "D Class", "mass": 1097, "co2": 80.8},
      {"series": "D Class", "mass": 1109, "co2": 82.1},
      {"series": "D Class", "mass": 1121, "co2": 81.6},
      {"series": "D Class", "mass": 1133, "co2": 82.7},
      {"series": "D Class", "mass": 1145, "co2": 82.5},
      {"series": "D Class", "mass": 1157, "co2": 83.9},
      {"series": "D Class", "mass": 1169, "co2": 83.8},
      {"series": "D Class", "mass": 1181, "co2": 83.8},
      {"series": "D Class", "mass": 1193, "co2": 85.1},
      {"series": "D Class", "mass": 1205, "co2": 85.3},
      {"series": "D Class", "mass": 1217, "co2": 85.5},
      {"series": "D Class", "mass": 1229, "co2": 86.6},
      {"series": "D Class", "mass": 1241, "co2": 86.5},
      {"series": "D Class", "mass": 1253, "co2": 87.8},
      {"series": "D Class", "mass": 1265, "co2": 87.2},
      {"series": "D Class", "mass": 1277, "co2": 88.3},
      {"series": "D Class", "mass": 1289, "co2": 88.2},
      {"series": "D Class", "mass": 1301, "co2": 89.6},
      {"series": "D Class", "mass": 1313, "co2": 89.4},
      {"series": "D Class", "mass": 1325, "co2": 89.5},
      {"series": "D Class", "mass": 1337, "co2": 90.8},
      {"series": "D Class", "mass": 1349, "co2": 90.9},
      {"series": "D Class", "mass": 1361, "co2": 91.1},
      {"series": "D Class", "mass": 1373, "co2": 92.3},
      {"series": "D Class", "mass": 1385, "co2": 92.1},
      {"series": "D Class", "mass": 1397, "co2": 93.4},
      {"series": "D Class", "mass": 1409, "co2": 92.9},
      {"series": "D Class", "mass": 1421, "co2": 94.0},
      {"series": "D Class", "mass": 1433, "co2": 93.8},
      {"series": "D Class", "mass": 1445, "co2": 95.2},
      {"series": "D Class", "mass": 1457, "co2": 95.1},
      {"series": "D Class", "mass": 1469, "co2": 95.1},
      {"series": "D Class", "mass": 1481, "co2": 96.4},
      {"series": "D Class", "mass": 1493, "co2": 96.6},
      {"series": "D Class", "mass": 1505, "co2": 96.8},
      {"series": "D Class", "mass": 1517, "co2": 97.9},
      {"series": "D Class", "mass": 1529, "co2": 97.8},
      {"series": "D Class", "mass": 1541, "co2": 99.1},
      {"series": "D Class", "mass": 1553, "co2": 98.5},
      {"series": "D Class", "mass": 1565, "co2": 99.6},
      {"series": "D Class", "mass": 1577, "co2": 99.5},
      {"series": "D Class", "mass": 1589, "co2": 100.9},
      {"series": "D Class", "mass": 1601, "co2": 100.7},
      {"series": "D Class", "mass": 1613, "co2": 100.8},
      {"series": "D Class", "mass": 1625, "co2": 102.1},
      {"series": "D Class", "mass": 1637, "co2": 102.2},
      {"series": "D Class", "mass": 1649, "co2": 102.4},
      {"series": "D Class", "mass": 1661, "co2": 103.6},
      {"series": "D Class", "mass": 1673, "co2": 103.5},
      {"series": "D Class", "mass": 1685, "co2": 104.7},
      {"series": "D Class", "mass": 1697, "co2": 104.2},
      {"series": "D Class", "mass": 1709, "co2": 105.3},
      {"series": "D Class", "mass": 1721, "co2": 105.1},
      {"series": "D Class", "mass": 1733, "co2": 106.5},
      {"series": "D Class", "mass": 1745, "co2": 106.4},
      {"series": "D Class", "mass": 1757, "co2": 106.4},
      {"series": "D Class", "mass": 1769, "co2": 107.7},
      {"series": "D Class", "mass": 1781, "co2": 107.9},
      {"series": "D Class", "mass": 1793, "co2": 108.1},
      {"series": "D Class", "mass": 1805, "co2": 109.2},
      {"series": "D Class", "mass": 1817, "co2": 109.1},
      {"series": "D Class", "mass": 1829, "co2": 110.4},
      {"series": "D Class", "mass": 1841, "co2": 109.8},
      {"series": "D Class", "mass": 1853, "co2": 110.9},
      {"series": "D Class", "mass": 1865, "co2": 110.8},
      {"series": "D Class", "mass": 1877, "co2": 112.2},
      {"series": "D Class", "mass": 1889, "co2": 112.0},
      {"series": "D Class", "mass": 1901, "co2": 112.1},
      {"series": "D Class", "mass": 1913, "co2": 113.4},
      {"series": "D Class", "mass": 1925, "co2": 113.5},
      {"series": "D Class", "mass": 1937, "co2": 113.7},
      {"series": "D Class", "mass": 1949, "co2": 114.9},
      {"series": "D Class", "mass": 1961, "co2": 114.8},
      {"series": "D Class", "mass": 1973, "co2": 116.0},
      {"series": "D Class", "mass": 1966, "co2": 116.6},
      {"series": "D Class", "mass": 1970, "co2": 114.2},
      {"series": "D Class", "mass": 1958, "co2": 115.9},
      {"series": "D Class", "mass": 1945, "co2": 113.0},
      {"series": "D Class", "mass": 1920, "co2": 114.4},
      {"series": "D Class", "mass": 1975, "co2": 115.3},
      {"series": "D Class", "mass": 1900, "co2": 111.0},
      {"series": "D Class", "mass": 995, "co2": 77.0},
      {"series": "D Class", "mass": 1007, "co2": 77.7},
      {"series": "D Class", "mass": 1019, "co2": 77.8},
      {"series": "D Class", "mass": 1031, "co2": 78.6},
      {"series": "D Class", "mass": 1043, "co2": 78.8},
      {"series": "D Class", "mass": 1055, "co2": 79.6},
      {"series": "D Class", "mass": 1067, "co2": 79.9},
      {"series": "D Class", "mass": 1079, "co2": 80.5},
      {"series": "D Class", "mass": 1091, "co2": 80.6},
      {"series": "D Class", "mass": 1103, "co2": 81.4},
      {"series": "D Class", "mass": 1115, "co2": 81.7},
      {"series": "D Class", "mass": 1127, "co2": 82.4},
      {"series": "D Class", "mass": 1139, "co2": 82.7},
      {"series": "D Class", "mass": 1151, "co2": 83.4},
      {"series": "D Class", "mass": 1163, "co2": 83.4},
      {"series": "D Class", "mass": 1175, "co2": 84.2},
      {"series": "D Class", "mass": 1187, "co2": 84.5},
      {"series": "D Class", "mass": 1199, "co2": 85.3},
      {"series": "D Class", "mass": 1211, "co2": 85.5},
      {"series": "D Class", "mass": 1223, "co2": 86.2},
      {"series": "D Class", "mass": 1235, "co2": 86.3},
      {"series": "D Class", "mass": 1247, "co2": 87.0},
      {"series": "D Class", "mass": 1259, "co2": 87.3},
      {"series": "D Class", "mass": 1271, "co2": 88.1},
      {"series": "D Class", "mass": 1283, "co2": 88.3},
      {"series": "D Class", "mass": 1295, "co2": 89.0},
      {"series": "D Class", "mass": 1307, "co2": 89.1},
      {"series": "D Class", "mass": 1319, "co2": 89.9},
      {"series": "D Class", "mass": 1331, "co2": 90.1},
      {"series": "D Class", "mass": 1343, "co2": 90.9},
      {"series": "D Class", "mass": 1355, "co2": 91.2},
      {"series": "D Class", "mass": 1367, "co2": 91.8},
      {"series": "D Class", "mass": 1379, "co2": 91.9},
      {"series": "D Class", "mass": 1391, "co2": 92.7},
      {"series": "D Class", "mass": 1403, "co2": 93.0},
      {"series": "D Class", "mass": 1415, "co2": 93.7},
      {"series": "D Class", "mass": 1427, "co2": 94.0},
      {"series": "D Class", "mass": 1439, "co2": 94.7},
      {"series": "D Class", "mass": 1451, "co2": 94.7},
      {"series": "D Class", "mass": 1463, "co2": 95.5},
      {"series": "D Class", "mass": 1475, "co2": 95.8},
      {"series": "D Class", "mass": 1487, "co2": 96.6},
      {"series": "D Class", "mass": 1499, "co2": 96.8},
      {"series": "D Class", "mass": 1511, "co2": 97.5},
      {"series": "D Class", "mass": 1523, "co2": 97.6},
      {"series": "D Class", "mass": 1535, "co2": 98.3},
      {"series": "D Class", "mass": 1547, "co2": 98.6},
      {"series": "D Class", "mass": 1559, "co2": 99.4},
      {"series": "D Class", "mass": 1571, "co2": 99.7},
      {"series": "D Class", "mass": 1583, "co2": 100.3},
      {"series": "D Class", "mass": 1595, "co2": 100.4},
      {"series": "D Class", "mass": 1607, "co2": 101.2},
      {"series": "D Class", "mass": 1619, "co2": 101.4},
      {"series": "D Class", "mass": 1631, "co2": 102.2},
      {"series": "D Class", "mass": 1643, "co2": 102.5},
      {"series": "D Class", "mass": 1655, "co2": 103.2},
      {"series": "D Class", "mass": 1667, "co2": 103.2},
      {"series": "D Class", "mass": 1679, "co2": 104.0},
      {"series": "D Class", "mass": 1691, "co2": 104.3},
      {"series": "D Class", "mass": 1703, "co2": 105.0},
      {"series": "D Class", "mass": 1715, "co2": 105.3},
      {"series": "D Class", "mass": 1727, "co2": 106.0},
      {"series": "D Class", "mass": 1739, "co2": 106.0},
      {"series": "D Class", "mass": 1751, "co2": 106.8},
      {"series": "D Class", "mass": 1763, "co2": 107.1},
      {"series": "D Class", "mass": 1775, "co2": 107.9},
      {"series": "D Class", "mass": 1787, "co2": 108.1},
      {"series": "D Class", "mass": 1799, "co2": 108.8},
      {"series": "D Class", "mass": 1811, "co2": 108.9},
      {"series": "D Class", "mass": 1823, "co2": 109.6},
      {"series": "D Class", "mass": 1835, "co2": 109.9},
      {"series": "D Class", "mass": 1847, "co2": 110.7},
      {"series": "D Class", "mass": 1859, "co2": 111.0},
      {"series": "D Class", "mass": 1871, "co2": 111.6},
      {"series": "D Class", "mass": 1883, "co2": 111.7},
      {"series": "D Class", "mass": 1895, "co2": 112.5},
      {"series": "D Class", "mass": 1907, "co2": 112.7},
      {"series": "D Class", "mass": 1919, "co2": 113.5},
      {"series": "D Class", "mass": 1931, "co2": 113.8},
      {"series": "D Class", "mass": 1943, "co2": 114.5},
      {"series": "D Class", "mass": 1955, "co2": 114.5},
      {"series": "D Class", "mass": 1967, "co2": 115.3},

      {"series": "C Class", "mass": 883, "co2": 74.5},
      {"series": "C Class", "mass": 895, "co2": 74.4},
      {"series": "C Class", "mass": 907, "co2": 75.8},
      {"series": "C Class", "mass": 919, "co2": 75.6},
      {"series": "C Class", "mass": 931, "co2": 75.7},
      {"series": "C Class", "mass": 943, "co2": 77.0},
      {"series": "C Class", "mass": 955, "co2": 77.2},
      {"series": "C Class", "mass": 967, "co2": 77.4},
      {"series": "C Class", "mass": 979, "co2": 78.5},
      {"series": "C Class", "mass": 991, "co2": 78.4},
      {"series": "C Class", "mass": 1003, "co2": 79.7},
      {"series": "C Class", "mass": 1015, "co2": 79.2},
      {"series": "C Class", "mass": 1027, "co2": 80.3},
      {"series": "C Class", "mass": 1039, "co2": 80.1},
      {"series": "C Class", "mass": 1051, "co2": 81.5},
      {"series": "C Class", "mass": 1063, "co2": 81.4},
      {"series": "C Class", "mass": 1075, "co2": 81.5},
      {"series": "C Class", "mass": 1087, "co2": 82.7},
      {"series": "C Class", "mass": 1099, "co2": 82.9},
      {"series": "C Class", "mass": 1111, "co2": 83.1},
      {"series": "C Class", "mass": 1123, "co2": 84.3},
      {"series": "C Class", "mass": 1135, "co2": 84.2},
      {"series": "C Class", "mass": 1147, "co2": 85.4},
      {"series": "C Class", "mass": 1159, "co2": 84.9},
      {"series": "C Class", "mass": 1171, "co2": 86.0},
      {"series": "C Class", "mass": 1183, "co2": 85.9},
      {"series": "C Class", "mass": 1195, "co2": 87.3},
      {"series": "C Class", "mass": 1207, "co2": 87.1},
      {"series": "C Class", "mass": 1219, "co2": 87.2},
      {"series": "C Class", "mass": 1231, "co2": 88.5},
      {"series": "C Class", "mass": 1243, "co2": 88.7},
      {"series": "C Class", "mass": 1255, "co2": 88.9},
      {"series": "C Class", "mass": 1267, "co2": 90.0},
      {"series": "C Class", "mass": 1279, "co2": 89.9},
      {"series": "C Class", "mass": 1291, "co2": 91.2},
      {"series": "C Class", "mass": 1303, "co2": 90.7},
      {"series": "C Class", "mass": 1315, "co2": 91.8},
      {"series": "C Class", "mass": 1327, "co2": 91.6},
      {"series": "C Class", "mass": 1339, "co2": 93.0},
      {"series": "C Class", "mass": 1351, "co2": 92.9},
      {"series": "C Class", "mass": 1363, "co2": 93.0},
      {"series": "C Class", "mass": 1375, "co2": 94.2},
      {"series": "C Class", "mass": 1387, "co2": 94.4},
      {"series": "C Class", "mass": 1399, "co2": 94.6},
      {"series": "C Class", "mass": 1411, "co2": 95.8},
      {"series": "C Class", "mass": 1423, "co2": 95.7},
      {"series": "C Class", "mass": 1435, "co2": 96.9},
      {"series": "C Class", "mass": 1447, "co2": 96.4},
      {"series": "C Class", "mass": 1459, "co2": 97.5},
      {"series": "C Class", "mass": 1471, "co2": 97.4},
      {"series": "C Class", "mass": 1483, "co2": 98.8},
      {"series": "C Class", "mass": 1495, "co2": 98.6},
      {"series": "C Class", "mass": 1507, "co2": 98.7},
      {"series": "C Class", "mass": 1519, "co2": 100.0},
      {"series": "C Class", "mass": 1531, "co2": 100.2},
      {"series": "C Class", "mass": 1543, "co2": 100.4},
      {"series": "C Class", "mass": 1555, "co2": 101.5},
      {"series": "C Class", "mass": 1567, "co2": 101.4},
      {"series": "C Class", "mass": 1579, "co2": 102.7},
      {"series": "C Class", "mass": 1591, "co2": 102.2},
      {"series": "C Class", "mass": 1603, "co2": 103.2},
      {"series": "C Class", "mass": 1615, "co2": 103.1},
      {"series": "C Class", "mass": 1627, "co2": 104.5},
      {"series": "C Class", "mass": 1639, "co2": 104.4},
      {"series": "C Class", "mass": 1651, "co2": 104.5},
      {"series": "C Class", "mass": 1663, "co2": 105.7},
      {"series": "C Class", "mass": 1675, "co2": 105.9},
      {"series": "C Class", "mass": 1687, "co2": 106.1},
      {"series": "C Class", "mass": 1699, "co2": 107.3},
      {"series": "C Class", "mass": 1711, "co2": 107.2},
      {"series": "C Class", "mass": 1723, "co2": 108.4},
      {"series": "C Class", "mass": 1735, "co2": 107.9},
      {"series": "C Class", "mass": 1747, "co2": 109.0},
      {"series": "C Class", "mass": 1759, "co2": 108.9},
      {"series": "C Class", "mass": 1762, "co2": 109.9},
      {"series": "C Class", "mass": 889, "co2": 74.5},
      {"series": "C Class", "mass": 901, "co2": 75.2},
      {"series": "C Class", "mass": 913, "co2": 75.3},
      {"series": "C Class", "mass": 925, "co2": 76.1},
      {"series": "C Class", "mass": 937, "co2": 76.4},
      {"series": "C Class", "mass": 949, "co2": 77.1},
      {"series": "C Class", "mass": 961, "co2": 77.4},
      {"series": "C Class", "mass": 973, "co2": 78.1},
      {"series": "C Class", "mass": 985, "co2": 78.2},
      {"series": "C Class", "mass": 997, "co2": 79.0},
      {"series": "C Class", "mass": 1009, "co2": 79.2},
      {"series": "C Class", "mass": 1021, "co2": 80.0},
      {"series": "C Class", "mass": 1033, "co2": 80.3},
      {"series": "C Class", "mass": 1045, "co2": 81.0},
      {"series": "C Class", "mass": 1057, "co2": 81.1},
      {"series": "C Class", "mass": 1069, "co2": 81.8},
      {"series": "C Class", "mass": 1081, "co2": 82.1},
      {"series": "C Class", "mass": 1093, "co2": 82.9},
      {"series": "C Class", "mass": 1105, "co2": 83.2},
      {"series": "C Class", "mass": 1117, "co2": 83.8},
      {"series": "C Class", "mass": 1129, "co2": 83.9},
      {"series": "C Class", "mass": 1141, "co2": 84.7},
      {"series": "C Class", "mass": 1153, "co2": 85.0},
      {"series": "C Class", "mass": 1165, "co2": 85.8},
      {"series": "C Class", "mass": 1177, "co2": 86.0},
      {"series": "C Class", "mass": 1189, "co2": 86.7},
      {"series": "C Class", "mass": 1201, "co2": 86.8},
      {"series": "C Class", "mass": 1213, "co2": 87.6},
      {"series": "C Class", "mass": 1225, "co2": 87.9},
      {"series": "C Class", "mass": 1237, "co2": 88.6},
      {"series": "C Class", "mass": 1249, "co2": 88.9},
      {"series": "C Class", "mass": 1261, "co2": 89.6},
      {"series": "C Class", "mass": 1273, "co2": 89.7},
      {"series": "C Class", "mass": 1285, "co2": 90.5},
      {"series": "C Class", "mass": 1297, "co2": 90.7},
      {"series": "C Class", "mass": 1309, "co2": 91.5},
      {"series": "C Class", "mass": 1321, "co2": 91.8},
      {"series": "C Class", "mass": 1333, "co2": 92.5},
      {"series": "C Class", "mass": 1345, "co2": 92.5},
      {"series": "C Class", "mass": 1357, "co2": 93.3},
      {"series": "C Class", "mass": 1369, "co2": 93.6},
      {"series": "C Class", "mass": 1381, "co2": 94.4},
      {"series": "C Class", "mass": 1393, "co2": 94.7},
      {"series": "C Class", "mass": 1405, "co2": 95.3},
      {"series": "C Class", "mass": 1417, "co2": 95.4},
      {"series": "C Class", "mass": 1429, "co2": 96.2},
      {"series": "C Class", "mass": 1441, "co2": 96.5},
      {"series": "C Class", "mass": 1453, "co2": 97.3},
      {"series": "C Class", "mass": 1465, "co2": 97.5},
      {"series": "C Class", "mass": 1477, "co2": 98.2},
      {"series": "C Class", "mass": 1489, "co2": 98.3},
      {"series": "C Class", "mass": 1501, "co2": 99.1},
      {"series": "C Class", "mass": 1513, "co2": 99.4},
      {"series": "C Class", "mass": 1525, "co2": 100.1},
      {"series": "C Class", "mass": 1537, "co2": 100.4},
      {"series": "C Class", "mass": 1549, "co2": 101.1},
      {"series": "C Class", "mass": 1561, "co2": 101.2},
      {"series": "C Class", "mass": 1573, "co2": 101.9},
      {"series": "C Class", "mass": 1585, "co2": 102.2},
      {"series": "C Class", "mass": 1597, "co2": 103.0},
      {"series": "C Class", "mass": 1609, "co2": 103.3},
      {"series": "C Class", "mass": 1621, "co2": 104.0},
      {"series": "C Class", "mass": 1633, "co2": 104.0},
      {"series": "C Class", "mass": 1645, "co2": 104.8},
      {"series": "C Class", "mass": 1657, "co2": 105.1},
      {"series": "C Class", "mass": 1669, "co2": 105.9},
      {"series": "C Class", "mass": 1681, "co2": 106.2},
      {"series": "C Class", "mass": 1693, "co2": 106.8},
      {"series": "C Class", "mass": 1705, "co2": 106.9},
      {"series": "C Class", "mass": 1717, "co2": 107.7},
      {"series": "C Class", "mass": 1729, "co2": 108.0},
      {"series": "C Class", "mass": 1741, "co2": 108.8},
      {"series": "C Class", "mass": 1753, "co2": 109.0},

      {"series": "B Class", "mass": 714, "co2": 71.2},
      {"series": "B Class", "mass": 718, "co2": 70.4},
      {"series": "B Class", "mass": 720, "co2": 71.8},
      {"series": "B Class", "mass": 726, "co2": 71.1},
      {"series": "B Class", "mass": 738, "co2": 72.4},
      {"series": "B Class", "mass": 750, "co2": 72.3},
      {"series": "B Class", "mass": 762, "co2": 72.4},
      {"series": "B Class", "mass": 774, "co2": 73.6},
      {"series": "B Class", "mass": 786, "co2": 73.8},
      {"series": "B Class", "mass": 798, "co2": 74.0},
      {"series": "B Class", "mass": 810, "co2": 75.2},
      {"series": "B Class", "mass": 822, "co2": 75.0},
      {"series": "B Class", "mass": 834, "co2": 76.3},
      {"series": "B Class", "mass": 846, "co2": 75.8},
      {"series": "B Class", "mass": 858, "co2": 76.8},
      {"series": "B Class", "mass": 870, "co2": 76.7},
      {"series": "B Class", "mass": 882, "co2": 78.1},
      {"series": "B Class", "mass": 894, "co2": 77.9},
      {"series": "B Class", "mass": 906, "co2": 78.0},
      {"series": "B Class", "mass": 918, "co2": 79.3},
      {"series": "B Class", "mass": 930, "co2": 79.4},
      {"series": "B Class", "mass": 942, "co2": 79.6},
      {"series": "B Class", "mass": 954, "co2": 80.8},
      {"series": "B Class", "mass": 966, "co2": 80.7},
      {"series": "B Class", "mass": 978, "co2": 81.9},
      {"series": "B Class", "mass": 990, "co2": 81.4},
      {"series": "B Class", "mass": 1002, "co2": 82.5},
      {"series": "B Class", "mass": 1014, "co2": 82.3},
      {"series": "B Class", "mass": 1026, "co2": 83.7},
      {"series": "B Class", "mass": 1038, "co2": 83.6},
      {"series": "B Class", "mass": 1050, "co2": 83.6},
      {"series": "B Class", "mass": 1062, "co2": 84.9},
      {"series": "B Class", "mass": 1074, "co2": 85.1},
      {"series": "B Class", "mass": 1086, "co2": 85.2},
      {"series": "B Class", "mass": 1098, "co2": 86.4},
      {"series": "B Class", "mass": 1110, "co2": 86.3},
      {"series": "B Class", "mass": 1122, "co2": 87.5},
      {"series": "B Class", "mass": 1134, "co2": 87.0},
      {"series": "B Class", "mass": 1146, "co2": 88.1},
      {"series": "B Class", "mass": 1158, "co2": 88.0},
      {"series": "B Class", "mass": 1170, "co2": 89.3},
      {"series": "B Class", "mass": 1182, "co2": 89.2},
      {"series": "B Class", "mass": 1194, "co2": 89.3},
      {"series": "B Class", "mass": 1206, "co2": 90.5},
      {"series": "B Class", "mass": 1218, "co2": 90.7},
      {"series": "B Class", "mass": 1230, "co2": 90.9},
      {"series": "B Class", "mass": 1242, "co2": 92.0},
      {"series": "B Class", "mass": 1254, "co2": 91.9},
      {"series": "B Class", "mass": 1266, "co2": 93.2},
      {"series": "B Class", "mass": 1278, "co2": 92.6},
      {"series": "B Class", "mass": 1290, "co2": 93.7},
      {"series": "B Class", "mass": 1302, "co2": 93.6},
      {"series": "B Class", "mass": 1314, "co2": 95.0},
      {"series": "B Class", "mass": 1326, "co2": 94.8},
      {"series": "B Class", "mass": 1338, "co2": 94.9},
      {"series": "B Class", "mass": 1350, "co2": 96.2},
      {"series": "B Class", "mass": 1362, "co2": 96.3},
      {"series": "B Class", "mass": 1374, "co2": 96.5},
      {"series": "B Class", "mass": 1386, "co2": 97.7},
      {"series": "B Class", "mass": 1398, "co2": 97.5},
      {"series": "B Class", "mass": 1410, "co2": 98.8},
      {"series": "B Class", "mass": 1422, "co2": 98.3},
      {"series": "B Class", "mass": 1428, "co2": 99.1},
      {"series": "B Class", "mass": 732, "co2": 71.9},
      {"series": "B Class", "mass": 744, "co2": 72.0},
      {"series": "B Class", "mass": 756, "co2": 72.7},
      {"series": "B Class", "mass": 768, "co2": 73.0},
      {"series": "B Class", "mass": 780, "co2": 73.8},
      {"series": "B Class", "mass": 792, "co2": 74.0},
      {"series": "B Class", "mass": 804, "co2": 74.7},
      {"series": "B Class", "mass": 816, "co2": 74.8},
      {"series": "B Class", "mass": 828, "co2": 75.6},
      {"series": "B Class", "mass": 840, "co2": 75.8},
      {"series": "B Class", "mass": 852, "co2": 76.6},
      {"series": "B Class", "mass": 864, "co2": 76.9},
      {"series": "B Class", "mass": 876, "co2": 77.5},
      {"series": "B Class", "mass": 888, "co2": 77.6},
      {"series": "B Class", "mass": 900, "co2": 78.4},
      {"series": "B Class", "mass": 912, "co2": 78.6},
      {"series": "B Class", "mass": 924, "co2": 79.4},
      {"series": "B Class", "mass": 936, "co2": 79.7},
      {"series": "B Class", "mass": 948, "co2": 80.3},
      {"series": "B Class", "mass": 960, "co2": 80.4},
      {"series": "B Class", "mass": 972, "co2": 81.2},
      {"series": "B Class", "mass": 984, "co2": 81.5},
      {"series": "B Class", "mass": 996, "co2": 82.2},
      {"series": "B Class", "mass": 1008, "co2": 82.5},
      {"series": "B Class", "mass": 1020, "co2": 83.2},
      {"series": "B Class", "mass": 1032, "co2": 83.2},
      {"series": "B Class", "mass": 1044, "co2": 84.0},
      {"series": "B Class", "mass": 1056, "co2": 84.3},
      {"series": "B Class", "mass": 1068, "co2": 85.0},
      {"series": "B Class", "mass": 1080, "co2": 85.3},
      {"series": "B Class", "mass": 1092, "co2": 86.0},
      {"series": "B Class", "mass": 1104, "co2": 86.0},
      {"series": "B Class", "mass": 1116, "co2": 86.8},
      {"series": "B Class", "mass": 1128, "co2": 87.1},
      {"series": "B Class", "mass": 1140, "co2": 87.9},
      {"series": "B Class", "mass": 1152, "co2": 88.1},
      {"series": "B Class", "mass": 1164, "co2": 88.8},
      {"series": "B Class", "mass": 1176, "co2": 88.9},
      {"series": "B Class", "mass": 1188, "co2": 89.6},
      {"series": "B Class", "mass": 1200, "co2": 89.9},
      {"series": "B Class", "mass": 1212, "co2": 90.7},
      {"series": "B Class", "mass": 1224, "co2": 90.9},
      {"series": "B Class", "mass": 1236, "co2": 91.6},
      {"series": "B Class", "mass": 1248, "co2": 91.7},
      {"series": "B Class", "mass": 1260, "co2": 92.4},
      {"series": "B Class", "mass": 1272, "co2": 92.7},
      {"series": "B Class", "mass": 1284, "co2": 93.5},
      {"series": "B Class", "mass": 1296, "co2": 93.8},
      {"series": "B Class", "mass": 1308, "co2": 94.4},
      {"series": "B Class", "mass": 1320, "co2": 94.5},
      {"series": "B Class", "mass": 1332, "co2": 95.3},
      {"series": "B Class", "mass": 1344, "co2": 95.5},
      {"series": "B Class", "mass": 1356, "co2": 96.3},
      {"series": "B Class", "mass": 1368, "co2": 96.6},
      {"series": "B Class", "mass": 1380, "co2": 97.2},
      {"series": "B Class", "mass": 1392, "co2": 97.3},
      {"series": "B Class", "mass": 1404, "co2": 98.1},
      {"series": "B Class", "mass": 1416, "co2": 98.3}
    ]
  },
  "mark": {"type": "point", "shape": "square", "filled": true, "size": 140, "opacity": 0.88},
  "encoding": {
    "x": {
      "field": "mass",
      "type": "quantitative",
      "scale": {"domain": [700, 2550], "nice": false, "zero": false},
      "axis": {
        "values": [750, 1000, 1250, 1500, 1750, 2000, 2250, 2500],
        "format": ",d",
        "title": "Vehicle Mass [kg]",
        "titleFontSize": 37,
        "titlePadding": 8,
        "titleX": 548
      }
    },
    "y": {
      "field": "co2",
      "type": "quantitative",
      "scale": {"domain": [60, 160], "nice": false, "zero": false},
      "axis": {
        "values": [60, 65, 70, 75, 80, 85, 90, 95, 100, 105, 110, 115, 120, 125, 130, 135, 140, 145, 150, 155, 160],
        "title": "NEDC CO2 [g CO2/km]",
        "titleFontSize": 42,
        "titlePadding": 9,
        "titleY": 520
      }
    },
    "color": {
      "field": "series",
      "type": "nominal",
      "scale": {
        "domain": ["Large N1", "Small N1", "Small CUV", "D Class", "C Class", "B Class"],
        "range": ["#000000", "#a5a6aa", "#e5800a", "#8f4a9d", "#006ab5", "#99ccfe"]
      },
      "legend": {
        "title": null,
        "orient": "none",
        "legendX": 856,
        "legendY": 596,
        "direction": "vertical",
        "padding": 11,
        "fillColor": "white",
        "strokeColor": "#a0a0a0",
        "symbolType": "square",
        "symbolSize": 256,
        "symbolOpacity": 1,
        "symbolStrokeWidth": 0,
        "symbolOffset": 4,
        "labelOffset": 7,
        "labelFont": "Liberation Sans",
        "labelFontSize": 27,
        "labelColor": "#000000",
        "labelLimit": 0,
        "rowPadding": 5,
        "labelExpr": "datum.label + '\u00a0\u00a0\u00a0\u00a0\u00a0\u00a0\u200b'",
        "encode": {"legend": {"update": {"strokeWidth": {"value": 3}}}}
      }
    }
  }
}
